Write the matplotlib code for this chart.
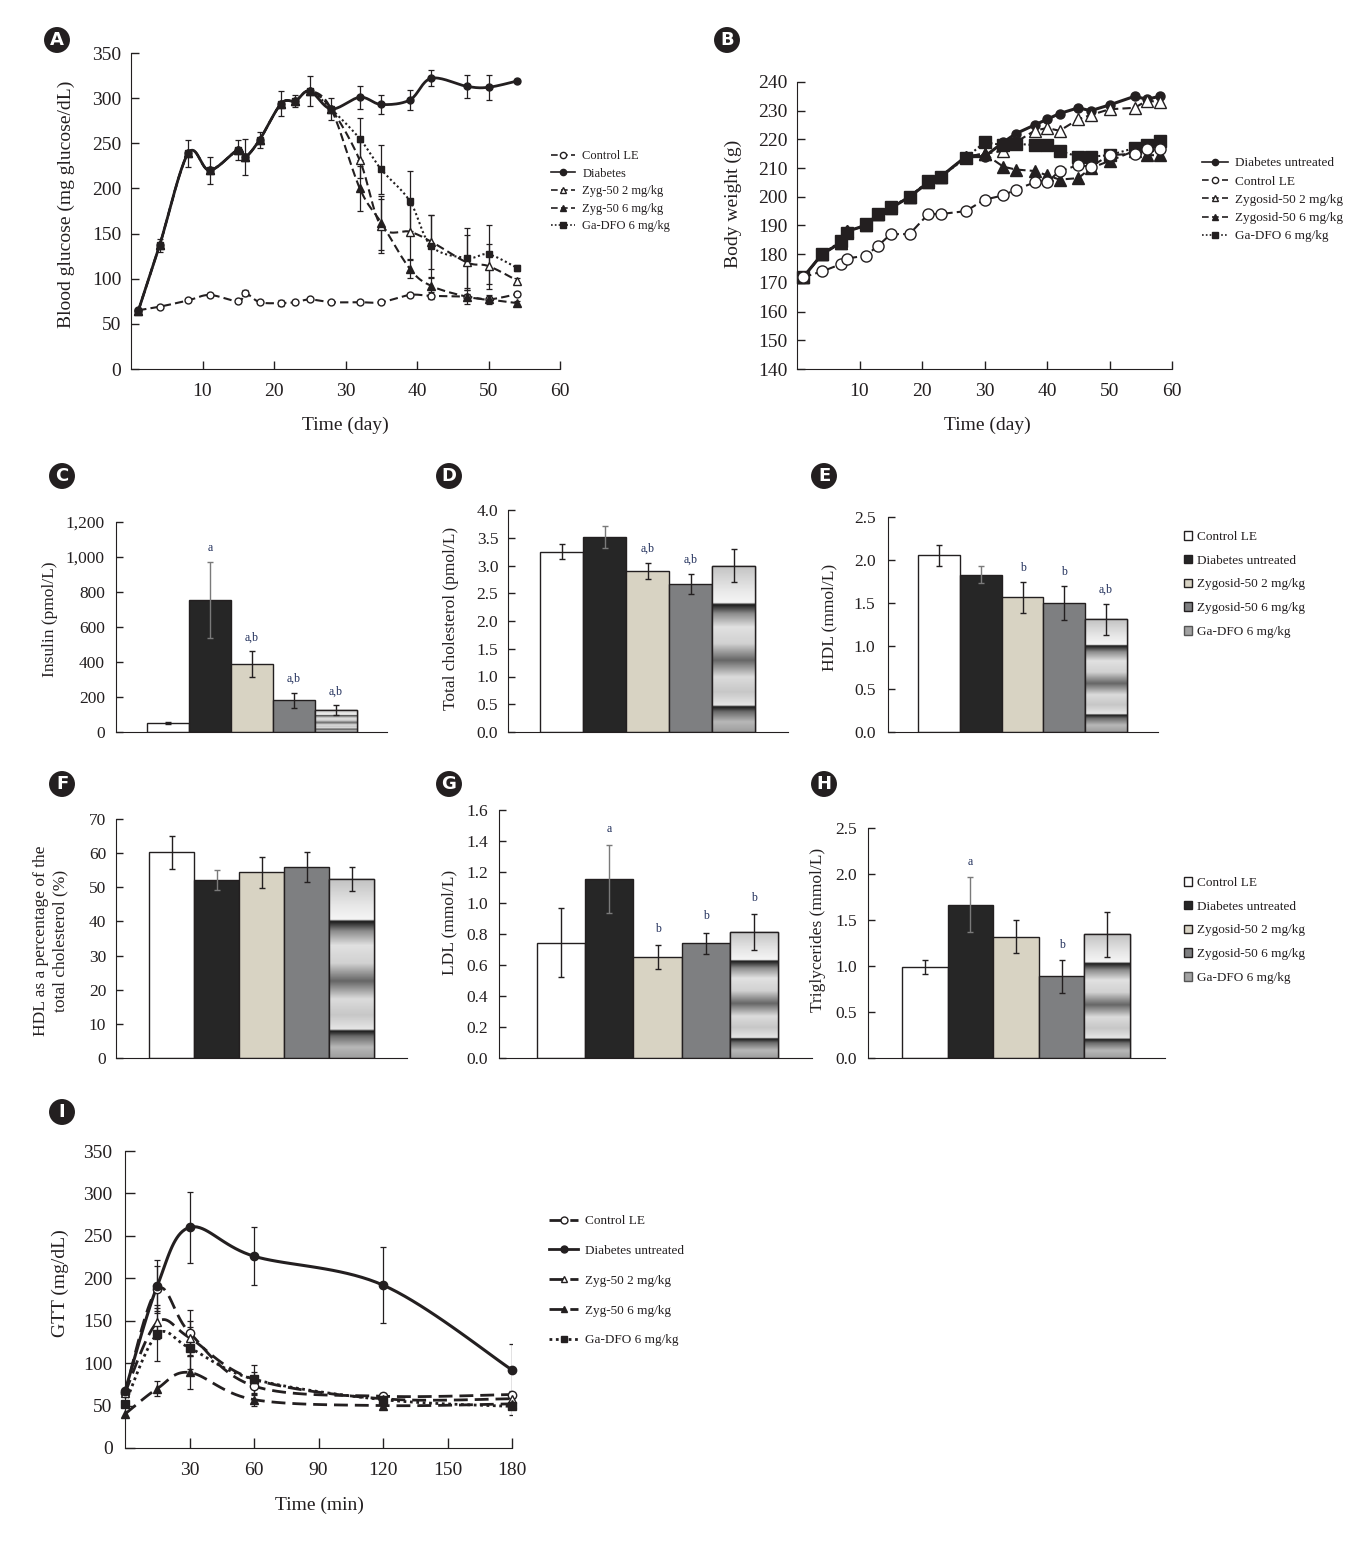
import numpy as np
import matplotlib
matplotlib.use("Agg")
import matplotlib.pyplot as plt
from matplotlib.lines import Line2D
from matplotlib.patches import Rectangle, Patch

# ---------------- data ----------------
# A: blood glucose (mg glucose/dL) over days
days_a = [1, 4, 8, 11, 15, 16, 18, 21, 23, 25, 28, 32, 35, 39, 42, 47, 50, 54]
ctrl_a = [65, 69, 76, 82, 75, 84, 74, 73, 74, 77, 74, 74, 74, 82, 81, 80, 77, 83]
ctrl_a_err = [0, 2, 2, 2, 2, 3, 2, 3, 2, 2, 2, 2, 2, 2, 4, 3, 3, 2]
diab_a = [64, 137, 239, 220, 243, 235, 254, 294, 297, 308, 288, 301, 293, 298, 322, 313, 312, 319]
diab_a_err = [3, 7, 15, 15, 11, 20, 9, 14, 7, 17, 12, 13, 11, 11, 9, 13, 14, 2]
pre_a = diab_a[:11]   # treated groups follow the diabetic group until day 28
zyg2_a = pre_a + [231, 158, 152, 141, 118, 114, 98]
zyg2_a_err = [0] * 11 + [20, 30, 30, 30, 30, 25, 3]
zyg6_a = pre_a + [200, 162, 111, 92, 80, 77, 73]
zyg6_a_err = [0] * 11 + [25, 30, 10, 10, 8, 5, 2]
ga_a = pre_a + [255, 221, 186, 136, 123, 127, 112]
ga_a_err = [0] * 11 + [23, 27, 33, 35, 33, 33, 3]

# B: body weight (g) over days
days_b = [1, 4, 7, 8, 11, 13, 15, 18, 21, 23, 27, 30, 33, 35, 38, 40, 42, 45, 47, 50, 54, 56, 58]
diab_b = [172, 180, 184, 188, 190, 194, 196, 200, 205, 207, 214, 214, 219, 222, 225, 227, 229, 231,
          230, 232, 235, 234, 235]
ctrl_b = [172, 174, 176.5, 178.5, 179.5, 183, 187, 187, 194, 194, 195, 199, 200.5, 202.5, 205, 205,
          209, 211, 210.5, 214.5, 215, 216.5, 216.5]
pre_b = diab_b[:11]
zyg2_b = pre_b + [215, 216, 219, 223, 224, 223, 227, 228.5, 230.5, 231, 233.5, 233]
zyg6_b = pre_b + [215, 210.5, 209.5, 209, 207.5, 206, 206.5, 210, 212.5, 216, 214.5, 214.5]
ga_b = [172, 180, 184.5, 187.5, 190.5, 194, 196.5, 200, 205.5, 207, 213.5, 219, 218, 218.5, 218,
        218, 216, 214, 214, 214.5, 217, 218, 219.5]

# C-H: bar values (Control LE, Diabetes, Zygosid 2, Zygosid 6, Ga-DFO)
ins = [52, 757, 390, 181, 124]
ins_err = [5, 217, 73, 43, 29]
ins_notes = ['', 'a', 'a,b', 'a,b', 'a,b']
tc = [3.25, 3.52, 2.905, 2.66, 3.0]
tc_err = [0.13, 0.2, 0.14, 0.18, 0.29]
tc_notes = ['', '', 'a,b', 'a,b', '']
hdl = [2.054, 1.83, 1.564, 1.50, 1.31]
hdl_err = [0.12, 0.1, 0.175, 0.195, 0.18]
hdl_notes = ['', '', 'b', 'b', 'a,b']
hdl_pct = [60.2, 52.1, 54.4, 56.0, 52.4]
hdl_pct_err = [4.9, 3.0, 4.5, 4.4, 3.5]
hdl_pct_notes = ['', '', '', '', '']
ldl = [0.745, 1.153, 0.649, 0.739, 0.814]
ldl_err = [0.22, 0.22, 0.077, 0.07, 0.115]
ldl_notes = ['', 'a', 'b', 'b', 'b']
tg = [0.99, 1.667, 1.317, 0.89, 1.343]
tg_err = [0.08, 0.3, 0.18, 0.18, 0.24]
tg_notes = ['', 'a', '', 'b', '']

# I: glucose tolerance test (mg/dL) over minutes
min_i = [0, 15, 30, 60, 120, 180]
ctrl_i = [65, 187, 136, 73, 61, 63]
ctrl_i_err = [0, 28, 27, 10, 4, 4]
diab_i = [67, 191, 260, 226, 192, 92]
diab_i_err = [0, 30, 42, 34, 45, 30]
zyg2_i = [65, 148, 130, 81, 58, 58]
zyg2_i_err = [0, 20, 20, 8, 4, 4]
zyg6_i = [40, 70, 89, 57, 50, 52]
zyg6_i_err = [0, 9, 20, 8, 3, 3]
ga_i = [52, 134, 118, 81, 57, 49]
ga_i_err = [0, 31, 25, 17, 4, 10]

# ---------------- style ----------------
W, H = 1369, 1543
INK = '#231f20'
NOTE = '#22305c'
BAR_FILLS = ['white', '#262626', '#d8d3c3', '#7e7f81', '#b0b0b0']
ERR_COLORS = [INK, '#7a7a7a', INK, INK, INK]
DASH = (0, (4, 2))
DOT = (0, (1, 1.3))
# vertical shading of the Ga-DFO bar (fraction of bar height -> grey level)
TEX_T = [0.00, 0.06, 0.12, 0.15, 0.16, 0.24, 0.33, 0.43, 0.53, 0.63, 0.71, 0.765, 0.775, 0.86, 1.00]
TEX_V = [0.62, 0.72, 0.42, 0.10, 0.90, 0.78, 0.86, 0.40, 0.82, 0.88, 0.55, 0.10, 0.96, 0.90, 0.76]

plt.rcParams['font.family'] = ['Liberation Serif', 'DejaVu Serif']
plt.rcParams['text.color'] = INK
plt.rcParams['axes.edgecolor'] = INK
plt.rcParams['xtick.color'] = INK
plt.rcParams['ytick.color'] = INK

fig = plt.figure(figsize=(W / 100, H / 100), dpi=100)


def px_axes(l, t, r, b):
    """pixel box measured from the top-left corner -> axes"""
    ax = fig.add_axes([l / W, 1 - b / H, (r - l) / W, (b - t) / H])
    ax.spines[['top', 'right']].set_visible(False)
    ax.patch.set_alpha(0)
    return ax


def fig_text(x, y, s, **kw):
    return fig.text(x / W, 1 - y / H, s, **kw)


def panel_tag(x, y, s):
    fig_text(x, y, s, ha='center', va='center', color='white', fontsize=13,
             fontweight='bold', family='DejaVu Sans',
             bbox=dict(boxstyle='circle,pad=0.22', fc=INK, ec='none'))


def smooth(ax, x, y, n=20):
    """Excel-like smoothed line (Bezier through the points), built in screen units"""
    (x0, x1), (y0, y1) = ax.get_xlim(), ax.get_ylim()
    pos = ax.get_position()
    sx = pos.width * W / (x1 - x0)
    sy = pos.height * H / (y1 - y0)
    p = np.column_stack([np.asarray(x, float) * sx, np.asarray(y, float) * sy])
    p = np.vstack([p[:1], p, p[-1:]])
    t = np.linspace(0, 1, n)[:, None]
    out = [p[1:2]]
    for i in range(1, len(p) - 2):
        c1 = p[i] + (p[i + 1] - p[i - 1]) / 6
        c2 = p[i + 1] - (p[i + 2] - p[i]) / 6
        seg = ((1 - t) ** 3 * p[i] + 3 * (1 - t) ** 2 * t * c1
               + 3 * (1 - t) * t ** 2 * c2 + t ** 3 * p[i + 1])
        out.append(seg[1:])
    out = np.vstack(out)
    return out[:, 0] / sx, out[:, 1] / sy


def series(ax, x, y, err, marker, mfc, ls, lw=1.5, ms=5.5, curved=True):
    if curved:
        lx, ly = smooth(ax, x, y)
    else:
        lx, ly = x, y
    ax.plot(lx, ly, color=INK, ls=ls, lw=lw, zorder=2, clip_on=False)
    if err is not None:
        e = np.asarray(err, float)
        k = e > 0
        ax.errorbar(np.asarray(x)[k], np.asarray(y)[k], yerr=e[k], fmt='none', ecolor=INK,
                    elinewidth=0.9, capsize=2.5, capthick=0.9, zorder=3)
    ax.plot(x, y, ls='none', marker=marker, ms=ms, mfc=mfc, mec=INK, mew=1.0,
            zorder=4, clip_on=False)


def line_legend(ax, styles, labels, x, y, fontsize, spacing, hl, tp, ms=4.5, lw=1.2):
    handles = [Line2D([], [], color=INK, ls=s['ls'], lw=lw, marker=s['marker'], ms=ms,
                      mfc=s['mfc'], mec=INK) for s in styles]
    ax.legend(handles, labels, loc='upper left', bbox_to_anchor=(x / W, 1 - y / H),
              bbox_transform=fig.transFigure, frameon=False, fontsize=fontsize,
              handlelength=hl, handletextpad=tp, labelspacing=spacing,
              borderpad=0, borderaxespad=0)


def bar_legend(ax, x, y):
    handles = [Patch(fc=c, ec=INK, lw=1.0) for c in BAR_FILLS[:4]] + [Patch(fc='#a2a2a2', ec='#555555', lw=1.0)]
    labels = ['Control LE', 'Diabetes untreated', 'Zygosid-50 2 mg/kg',
              'Zygosid-50 6 mg/kg', 'Ga-DFO 6 mg/kg']
    ax.legend(handles, labels, loc='upper left', bbox_to_anchor=(x / W, 1 - y / H),
              bbox_transform=fig.transFigure, frameon=False, fontsize=9.5,
              handlelength=0.62, handleheight=0.62, handletextpad=0.35,
              labelspacing=0.89, borderpad=0, borderaxespad=0)


def shade_bar(ax, bar):
    x0, w, h = bar.get_x(), bar.get_width(), bar.get_height()
    prof = np.interp(np.linspace(0, 1, 300), TEX_T, TEX_V)[:, None]
    im = ax.imshow(prof, cmap='gray', vmin=0, vmax=1, origin='lower', aspect='auto',
                   extent=(x0, x0 + w, 0, h), interpolation='bilinear', zorder=2.5)
    im.set_clip_path(bar)
    ax.add_patch(Rectangle((x0, 0), w, h, fill=False, ec=INK, lw=1.0, zorder=3))


def bar_panel(box, bars_px, vals, errs, notes, ymax, step, fmt, pad=7):
    l, t, r, b = box
    ax = px_axes(l, t, r, b)
    n = len(vals)
    pos = np.arange(n)
    bars = ax.bar(pos, vals, width=1.0, color=BAR_FILLS, edgecolor=INK, linewidth=1.0, zorder=2)
    shade_bar(ax, bars[-1])
    for i in range(n):
        ax.errorbar(pos[i], vals[i], yerr=errs[i], fmt='none', ecolor=ERR_COLORS[i],
                    elinewidth=1.0, capsize=2.5, capthick=1.0, zorder=4)
        if notes[i]:
            ax.text(pos[i], vals[i] + errs[i] + 0.065 * ymax, notes[i], ha='center',
                    va='center', fontsize=8.5, color=NOTE)
    unit = (bars_px[1] - bars_px[0]) / n
    ax.set_xlim(-0.5 - (bars_px[0] - l) / unit, n - 0.5 + (r - bars_px[1]) / unit)
    ax.set_ylim(0, ymax)
    ticks = np.arange(0, ymax + step / 2, step)
    ax.set_yticks(ticks)
    ax.set_yticklabels([fmt(v) for v in ticks])
    ax.tick_params(axis='y', direction='in', length=5, width=1, labelsize=12.5, pad=pad)
    ax.tick_params(axis='x', bottom=False, labelbottom=False)
    return ax


# ---------------- A: blood glucose ----------------
st_ctrl = dict(marker='o', mfc='white', ls=DASH)
st_diab = dict(marker='o', mfc=INK, ls='-')
st_zyg2 = dict(marker='^', mfc='white', ls=DASH)
st_zyg6 = dict(marker='^', mfc=INK, ls=DASH)
st_ga = dict(marker='s', mfc=INK, ls=DOT)
styles = [st_ctrl, st_diab, st_zyg2, st_zyg6, st_ga]

ax = px_axes(131, 53, 560, 369)
ax.set_xlim(0, 60)
ax.set_ylim(0, 350)
series(ax, days_a, ctrl_a, ctrl_a_err, ms=5, **st_ctrl)
series(ax, days_a, diab_a, diab_a_err, lw=2.0, ms=5, **st_diab)
series(ax, days_a, zyg2_a, zyg2_a_err, ms=5.5, **st_zyg2)
series(ax, days_a, zyg6_a, zyg6_a_err, ms=5.5, **st_zyg6)
series(ax, days_a, ga_a, ga_a_err, ms=5, **st_ga)
ax.set_xticks([10, 20, 30, 40, 50, 60])
ax.set_yticks(np.arange(0, 351, 50))
ax.tick_params(direction='in', length=6, width=1, labelsize=14)
ax.tick_params(axis='x', pad=10)
ax.tick_params(axis='y', pad=7)
line_legend(ax, styles, ['Control LE', 'Diabetes', 'Zyg-50 2 mg/kg', 'Zyg-50 6 mg/kg',
                         'Ga-DFO 6 mg/kg'], 551, 150, 9, 0.45, 1.9, 0.6)
fig_text(66, 204, 'Blood glucose (mg glucose/dL)', rotation=90, ha='center', va='center', fontsize=14)
fig_text(345, 425, 'Time (day)', ha='center', va='center', fontsize=14)

# ---------------- B: body weight ----------------
ax = px_axes(797, 82, 1172, 369)
ax.set_xlim(0, 60)
ax.set_ylim(140, 240)
series(ax, days_b, diab_b, None, lw=2.2, ms=6.5, curved=False, **st_diab)
series(ax, days_b, zyg2_b, None, lw=1.5, ms=8.5, curved=False, **st_zyg2)
series(ax, days_b, zyg6_b, None, lw=1.5, ms=8, curved=False, **st_zyg6)
series(ax, days_b, ga_b, None, lw=1.5, ms=9, curved=False, **st_ga)
series(ax, days_b, ctrl_b, None, lw=1.5, ms=8, curved=False, **st_ctrl)
ax.set_xticks([10, 20, 30, 40, 50, 60])
ax.set_yticks(np.arange(140, 241, 10))
ax.tick_params(direction='in', length=6, width=1, labelsize=14)
ax.tick_params(axis='x', pad=10)
ax.tick_params(axis='y', pad=7)
line_legend(ax, [st_diab, st_ctrl, st_zyg2, st_zyg6, st_ga],
            ['Diabetes untreated', 'Control LE', 'Zygosid-50 2 mg/kg', 'Zygosid-50 6 mg/kg',
             'Ga-DFO 6 mg/kg'], 1202, 157, 9.5, 0.46, 2.0, 0.5)
fig_text(733, 204, 'Body weight (g)', rotation=90, ha='center', va='center', fontsize=14)
fig_text(987, 425, 'Time (day)', ha='center', va='center', fontsize=14)

# ---------------- C-H: bar panels ----------------
dec1 = lambda v: f'{v:.1f}'
ax = bar_panel((116, 522, 387, 732), (147, 357), ins, ins_err, ins_notes, 1200, 200,
               lambda v: f'{int(v):,}', pad=8)
fig_text(50, 619, 'Insulin (pmol/L)', rotation=90, ha='center', va='center', fontsize=12.5)

ax = bar_panel((508, 510, 788, 732), (540, 755), tc, tc_err, tc_notes, 4.0, 0.5, dec1, pad=7)
fig_text(451, 618, 'Total cholesterol (pmol/L)', rotation=90, ha='center', va='center', fontsize=12.5)

ax = bar_panel((888, 517, 1158, 732), (918, 1127), hdl, hdl_err, hdl_notes, 2.5, 0.5, dec1, pad=9)
fig_text(829, 617, 'HDL (mmol/L)', rotation=90, ha='center', va='center', fontsize=12.5)
bar_legend(ax, 1184, 531)

ax = bar_panel((116, 819, 407, 1058), (149, 374), hdl_pct, hdl_pct_err, hdl_pct_notes, 70, 10,
               lambda v: f'{int(v)}', pad=7)
fig_text(51, 941, 'HDL as a percentage of the\ntotal cholesterol (%)', rotation=90,
         ha='center', va='center', fontsize=12.5, linespacing=1.25)

ax = bar_panel((499, 810, 812, 1058), (537, 778), ldl, ldl_err, ldl_notes, 1.6, 0.2, dec1, pad=8)
fig_text(449, 922, 'LDL (mmol/L)', rotation=90, ha='center', va='center', fontsize=12.5)

ax = bar_panel((868, 828, 1165, 1058), (902, 1130), tg, tg_err, tg_notes, 2.5, 0.5, dec1, pad=8)
fig_text(818, 930, 'Triglycerides (mmol/L)', rotation=90, ha='center', va='center', fontsize=12.5)
bar_legend(ax, 1184, 877)

# ---------------- I: GTT ----------------
DASH_I = (0, (5, 2.5))
ax = px_axes(125, 1151, 512, 1448)
ax.set_xlim(0, 180)
ax.set_ylim(0, 350)
series(ax, min_i, ctrl_i, ctrl_i_err, marker='o', mfc='white', ls=DASH_I, lw=2.0, ms=6)
series(ax, min_i, zyg2_i, zyg2_i_err, marker='^', mfc='white', ls=DASH_I, lw=2.0, ms=6)
series(ax, min_i, zyg6_i, zyg6_i_err, marker='^', mfc=INK, ls=DASH_I, lw=2.0, ms=6)
series(ax, min_i, ga_i, ga_i_err, marker='s', mfc=INK, ls=DOT, lw=2.0, ms=6)
series(ax, min_i, diab_i, diab_i_err, marker='o', mfc=INK, ls='-', lw=2.2, ms=6)
ax.set_xticks([30, 60, 90, 120, 150, 180])
ax.set_yticks(np.arange(0, 351, 50))
ax.tick_params(direction='in', length=7, width=1, labelsize=14)
ax.tick_params(axis='x', pad=10)
ax.tick_params(axis='y', pad=9)
styles_i = [dict(marker='o', mfc='white', ls=DASH_I), st_diab, dict(marker='^', mfc='white', ls=DASH_I),
            dict(marker='^', mfc=INK, ls=DASH_I), st_ga]
line_legend(ax, styles_i, ['Control LE', 'Diabetes untreated', 'Zyg-50 2 mg/kg', 'Zyg-50 6 mg/kg',
                           'Ga-DFO 6 mg/kg'], 549, 1215, 9.5, 1.33, 2.2, 0.5, ms=5, lw=2.0)
fig_text(60, 1283, 'GTT (mg/dL)', rotation=90, ha='center', va='center', fontsize=14)
fig_text(319, 1505, 'Time (min)', ha='center', va='center', fontsize=14)

# ---------------- panel tags ----------------
for x, y, s in [(57, 40, 'A'), (727, 40, 'B'), (62, 476, 'C'), (449, 476, 'D'), (824, 476, 'E'),
                (62, 784, 'F'), (449, 784, 'G'), (824, 784, 'H'), (62, 1112, 'I')]:
    panel_tag(x, y, s)

fig.savefig('out.png', dpi=100, facecolor='white')
